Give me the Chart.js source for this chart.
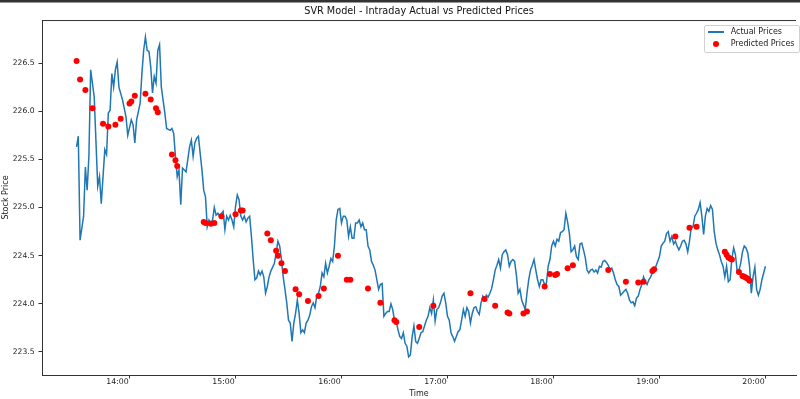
<!DOCTYPE html>
<html>
<head>
<meta charset="utf-8">
<script src="https://cdn.jsdelivr.net/npm/chart.js@4.4.1/dist/chart.umd.min.js"></script>
<style>
  html, body { margin: 0; padding: 0; background: #fff; }
  #wrap { position: relative; width: 800px; height: 399px; }
  #legend {
    position: absolute; left: 704px; top: 25px; width: 94px; height: 26px;
    border: 1px solid #d0d0d0; border-radius: 2px; background: rgba(255, 255, 255, 0.8);
    font: 8px "DejaVu Sans", sans-serif; color: #222;
  }
  .row { position: absolute; left: 0; height: 10px; line-height: 10px; white-space: nowrap; }
  .row .txt { position: absolute; left: 25.7px; top: 0; }
  .row .line { position: absolute; left: 3px; top: 4px; width: 16px; height: 2px; }
  .row .dot { position: absolute; left: 8px; top: 2px; width: 6px; height: 6px; border-radius: 50%; }
</style>
</head>
<body>
<div id="wrap">
  <canvas id="chart" width="800" height="399"></canvas>
  <div id="legend"></div>
</div>
<script>
const OPEN = 13 * 60 + 30

const tickLabels = ["14:00", "15:00", "16:00", "17:00", "18:00", "19:00", "20:00"]
const priceTicks = [223.5, 224.0, 224.5, 225.0, 225.5, 226.0, 226.5]

// minutes after the 13:30 open
const actualMinutes = [
  0, 1, 2, 4, 5, 6, 7, 8, 10, 12, 13, 14, 16, 17, 18, 19, 20, 21, 22, 23, 24, 26, 28, 29, 31, 32, 33, 34, 36, 37,
  38, 39, 40, 41, 42, 43, 44, 45, 46, 47, 48, 50, 51, 53, 54, 55, 56, 57, 58, 59, 60, 61, 62, 64, 65, 66, 67, 68, 69, 70,
  71, 72, 73, 74, 75, 76, 77, 78, 79, 80, 81, 83, 84, 85, 86, 87, 88, 89, 90, 91, 92, 93, 94, 95, 96, 97, 98, 99, 100, 101,
  102, 103, 104, 105, 106, 107, 108, 109, 110, 112, 113, 114, 115, 116, 117, 118, 119, 120, 121, 122, 123, 124, 125, 126, 127, 128, 129, 130, 131, 132,
  133, 134, 135, 136, 137, 138, 139, 140, 141, 142, 143, 144, 145, 146, 147, 148, 149, 150, 151, 152, 153, 154, 155, 156, 157, 158, 159, 160, 161, 162,
  163, 164, 165, 166, 167, 168, 169, 170, 171, 172, 173, 174, 175, 176, 177, 178, 179, 180, 181, 182, 183, 184, 185, 186, 187, 188, 189, 190, 191, 192,
  193, 194, 195, 196, 197, 198, 199, 200, 201, 202, 203, 204, 205, 206, 207, 208, 209, 210, 211, 212, 213, 214, 215, 216, 217, 218, 219, 220, 221, 222,
  223, 224, 225, 226, 227, 228, 229, 230, 231, 232, 233, 234, 235, 236, 237, 238, 239, 240, 241, 242, 243, 244, 245, 246, 247, 248, 249, 250, 251, 252,
  253, 254, 255, 256, 257, 258, 259, 260, 261, 262, 263, 264, 265, 266, 267, 268, 269, 270, 271, 272, 273, 274, 275, 276, 277, 278, 279, 280, 281, 282,
  283, 284, 285, 286, 287, 288, 289, 290, 291, 292, 293, 294, 295, 296, 297, 298, 299, 300, 301, 302, 303, 304, 305, 306, 307, 308, 309, 310, 311, 312,
  313, 314, 315, 316, 317, 318, 319, 320, 321, 322, 323, 324, 325, 326, 327, 328, 329, 330, 331, 332, 333, 334, 335, 336, 337, 338, 339, 340, 341, 342,
  343, 344, 345, 346, 347, 348, 349, 350, 351, 352, 353, 354, 355, 356, 357, 358, 359, 360, 361, 362, 363, 364, 365, 366, 367, 368, 369, 370, 371, 372,
  373, 374, 375, 376, 377, 378, 379, 380, 381, 382, 383, 384, 385, 386, 387, 388, 389, 390,
]
const actualPrices = [
  225.63, 225.74, 224.66, 224.91, 225.42, 225.18, 225.53, 226.43, 226.15, 225.22, 225.32, 225.04, 225.60, 225.55, 225.98, 226.01, 226.39, 226.25, 226.43, 226.51, 226.25, 226.12, 225.94, 225.75, 225.91, 225.86, 225.67, 225.91, 226.08, 226.39,
  226.63, 226.77, 226.63, 226.62, 226.46, 226.19, 226.36, 226.29, 226.63, 226.69, 226.25, 225.98, 225.82, 225.80, 225.82, 225.77, 225.53, 225.32, 225.39, 225.03, 225.41, 225.39, 225.37, 225.63, 225.70, 225.53, 225.67, 225.72, 225.74, 225.56,
  225.39, 225.18, 225.11, 224.80, 224.87, 224.84, 224.87, 225.00, 224.92, 224.94, 224.91, 224.96, 224.77, 224.91, 224.87, 224.92, 224.87, 224.80, 225.01, 225.13, 225.08, 224.91, 224.87, 224.91, 224.85, 224.89, 224.91, 224.70, 224.46, 224.25,
  224.27, 224.34, 224.30, 224.34, 224.28, 224.11, 224.18, 224.28, 224.34, 224.42, 224.53, 224.65, 224.60, 224.46, 224.28, 224.15, 224.01, 223.83, 223.80, 223.61, 223.80, 223.90, 224.04, 223.90, 223.70, 223.73, 223.70, 223.80, 223.83, 223.88,
  223.97, 224.01, 223.96, 224.08, 224.11, 224.18, 224.32, 224.28, 224.42, 224.32, 224.39, 224.47, 224.44, 224.60, 224.87, 224.98, 224.99, 224.84, 224.91, 224.91, 224.87, 224.70, 224.80, 224.68, 224.68, 224.84, 224.84, 224.87, 224.80, 224.84,
  224.77, 224.77, 224.60, 224.56, 224.44, 224.40, 224.35, 224.25, 224.15, 224.20, 224.21, 223.87, 223.90, 223.92, 223.92, 224.00, 223.94, 223.83, 223.82, 223.73, 223.66, 223.64, 223.70, 223.59, 223.56, 223.45, 223.47, 223.66, 223.77, 223.61,
  223.59, 223.64, 223.70, 223.71, 223.77, 223.83, 223.87, 223.96, 223.90, 224.04, 223.82, 223.94, 223.96, 224.01, 224.08, 224.11, 224.01, 223.87, 223.83, 223.70, 223.66, 223.61, 223.66, 223.71, 223.73, 223.83, 223.94, 223.87, 223.96, 223.92,
  223.80, 223.90, 223.96, 223.97, 223.92, 223.89, 224.01, 224.08, 224.04, 224.09, 224.07, 224.11, 224.16, 224.25, 224.35, 224.40, 224.46, 224.37, 224.51, 224.54, 224.56, 224.51, 224.39, 224.44, 224.46, 224.44, 224.30, 224.11, 224.15, 224.04,
  223.99, 223.94, 224.11, 224.25, 224.35, 224.40, 224.46, 224.35, 224.25, 224.18, 224.25, 224.25, 224.20, 224.21, 224.39, 224.46, 224.60, 224.65, 224.60, 224.67, 224.65, 224.74, 224.75, 224.77, 224.94, 224.85, 224.73, 224.54, 224.56, 224.60,
  224.49, 224.46, 224.62, 224.63, 224.56, 224.48, 224.35, 224.32, 224.35, 224.36, 224.33, 224.35, 224.32, 224.39, 224.38, 224.44, 224.45, 224.43, 224.40, 224.35, 224.37, 224.32, 224.25, 224.20, 224.18, 224.09, 224.11, 224.13, 224.15, 224.11,
  224.04, 224.01, 224.02, 223.98, 224.06, 224.08, 224.15, 224.20, 224.28, 224.23, 224.20, 224.25, 224.28, 224.32, 224.35, 224.39, 224.44, 224.49, 224.60, 224.63, 224.65, 224.73, 224.75, 224.65, 224.70, 224.62, 224.65, 224.60, 224.56, 224.60,
  224.65, 224.66, 224.62, 224.54, 224.65, 224.79, 224.80, 224.91, 224.94, 224.98, 225.05, 224.91, 224.72, 224.91, 224.99, 224.96, 225.02, 224.98, 224.75, 224.63, 224.56, 224.51, 224.44, 224.39, 224.28, 224.39, 224.23, 224.25, 224.47, 224.58,
  224.51, 224.34, 224.35, 224.42, 224.54, 224.60, 224.58, 224.53, 224.39, 224.11, 224.28, 224.38, 224.15, 224.09, 224.15, 224.25, 224.32, 224.39,
]

const predictedMinutes = [
  0, 2, 5, 9, 15, 18, 22, 25, 30, 31, 33, 39, 42, 45, 46, 54, 56, 57, 72, 73, 76, 78, 82, 90, 93, 94, 108, 110, 113, 114,
  116, 118, 124, 126, 131, 137, 140, 148, 153, 155, 165, 172, 180, 181, 194, 202, 223, 231, 237, 244, 245, 253, 255, 265, 268, 271, 272, 278, 281, 301,
  311, 318, 321, 326, 327, 339, 347, 351, 367, 368, 369, 370, 371, 375, 377, 378, 379, 380, 381,
]
const predictedPrices = [
  226.52, 226.33, 226.22, 226.03, 225.87, 225.84, 225.86, 225.92, 226.08, 226.10, 226.16, 226.18, 226.12, 226.03, 225.99, 225.55, 225.49, 225.43, 224.85, 224.84, 224.83, 224.84, 224.91, 224.93, 224.97, 224.97, 224.73, 224.66, 224.55, 224.50,
  224.42, 224.34, 224.15, 224.10, 224.03, 224.08, 224.16, 224.50, 224.25, 224.25, 224.16, 224.01, 223.83, 223.81, 223.76, 223.98, 224.11, 224.05, 223.98, 223.91, 223.90, 223.90, 223.92, 224.18, 224.31, 224.30, 224.31, 224.37, 224.40, 224.35,
  224.23, 224.22, 224.23, 224.34, 224.36, 224.70, 224.79, 224.80, 224.54, 224.51, 224.48, 224.47, 224.46, 224.33, 224.29, 224.28, 224.27, 224.26, 224.24,
]

const FONT = "'DejaVu Sans', sans-serif"
const INK = "#222"
const SPINE = "#333"

function toMinutes(label) {
  const [h, m] = label.split(":").map(Number)
  return h * 60 + m
}

function toLabel(value) {
  const h = Math.floor(value / 60)
  const m = Math.round(value - h * 60)
  return `${h}:${String(m).padStart(2, "0")}`
}

function toPoints(minutes, prices) {
  return minutes.map((m, i) => ({ x: OPEN + m, y: prices[i] }))
}

// window edge on top and the top spine of the axes
const frame = {
  id: "frame",
  beforeDraw(chart) {
    const { ctx } = chart
    ctx.save()
    ctx.fillStyle = SPINE
    ctx.fillRect(0, 0, chart.width, 2.5)
    ctx.restore()
  },
  afterDraw(chart) {
    const { ctx, chartArea } = chart
    ctx.save()
    ctx.strokeStyle = SPINE
    ctx.lineWidth = 1
    ctx.beginPath()
    ctx.moveTo(chartArea.left, chartArea.top + 0.5)
    ctx.lineTo(chartArea.right, chartArea.top + 0.5)
    ctx.stroke()
    ctx.restore()
  },
}

const axisTicks = { display: true, drawOnChartArea: false, drawTicks: true, tickLength: 3.5, tickColor: SPINE }

const chart = new Chart(document.getElementById("chart"), {
  type: "line",
  data: {
    datasets: [
      {
        label: "Actual Prices",
        data: toPoints(actualMinutes, actualPrices),
        borderColor: "#1f77b4",
        backgroundColor: "#1f77b4",
        borderWidth: 1.5,
        pointRadius: 0,
        tension: 0,
        order: 2,
      },
      {
        type: "scatter",
        label: "Predicted Prices",
        data: toPoints(predictedMinutes, predictedPrices),
        backgroundColor: "#ff0000",
        borderWidth: 0,
        pointRadius: 3,
        showLine: false,
        order: 1,
      },
    ],
  },
  options: {
    responsive: false,
    animation: false,
    layout: { padding: { top: 3, left: 0, right: 0, bottom: 0 } },
    plugins: {
      legend: { display: false },
      tooltip: { enabled: false },
      title: {
        display: true,
        fullSize: false,
        text: "SVR Model - Intraday Actual vs Predicted Prices",
        color: "#111",
        font: { family: FONT, size: 9.7, weight: "normal", lineHeight: 1.2 },
        padding: { top: 3, bottom: 2.4 },
      },
    },
    scales: {
      x: {
        type: "linear",
        min: 790.45,
        max: 1217.3,
        afterFit: (scale) => { scale.height = 24 },
        afterBuildTicks: (scale) => { scale.ticks = tickLabels.map((l) => ({ value: toMinutes(l) })) },
        grid: axisTicks,
        border: { display: true, color: SPINE, width: 1 },
        ticks: {
          color: INK,
          font: { family: FONT, size: 7.8, lineHeight: 1 },
          padding: 0,
          labelOffset: -12,
          maxRotation: 0,
          autoSkip: false,
          callback: (value) => toLabel(value),
        },
        title: {
          display: true,
          text: "Time",
          color: INK,
          font: { family: FONT, size: 8, lineHeight: 1.2 },
          padding: { top: 0, bottom: 0.2 },
        },
      },
      y: {
        min: 223.261,
        max: 226.946,
        afterFit: (scale) => { scale.width = 42 },
        afterBuildTicks: (scale) => { scale.ticks = priceTicks.map((v) => ({ value: v })) },
        grid: axisTicks,
        border: { display: true, color: SPINE, width: 1 },
        ticks: {
          color: INK,
          font: { family: FONT, size: 7.6 },
          padding: 4,
          callback: (value) => value.toFixed(1),
        },
        title: {
          display: true,
          text: "Stock Price",
          color: INK,
          font: { family: FONT, size: 8, lineHeight: 1.2 },
          padding: { top: 0.7, bottom: 0 },
        },
      },
    },
  },
  plugins: [frame],
})

// legend box in the upper right, built from the datasets
const legend = document.getElementById("legend")
chart.data.datasets.forEach((ds, i) => {
  const row = document.createElement("div")
  row.className = "row"
  row.style.top = (i === 0 ? 0.7 : 13) + "px"
  const mark = document.createElement("span")
  if (ds.showLine === false) {
    mark.className = "dot"
    mark.style.background = ds.backgroundColor
  } else {
    mark.className = "line"
    mark.style.background = ds.borderColor
  }
  const txt = document.createElement("span")
  txt.className = "txt"
  txt.textContent = ds.label
  row.appendChild(mark)
  row.appendChild(txt)
  legend.appendChild(row)
})
</script>
</body>
</html>
